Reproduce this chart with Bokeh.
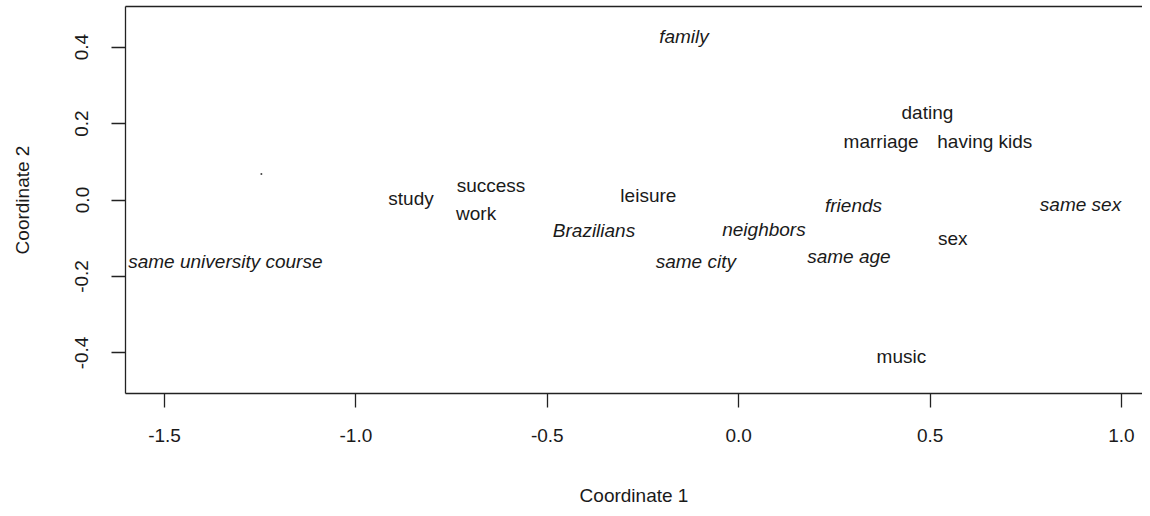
from bokeh.plotting import figure
from bokeh.models import Range1d, FixedTicker, ColumnDataSource, LinearAxis
from bokeh.core.properties import value
from bokeh.embed import file_html
from bokeh.resources import INLINE

# ---- data ----
labels = ["family", "dating", "marriage", "having kids", "study", "success", "work",
          "leisure", "Brazilians", "neighbors", "friends", "same sex", "sex",
          "same age", "same city", "same university course", "music"]
coord1 = [-0.143, 0.493, 0.372, 0.643, -0.856, -0.647, -0.686,
          -0.236, -0.378, 0.066, 0.300, 0.893, 0.559,
          0.288, -0.112, -1.341, 0.425]
coord2 = [0.428, 0.228, 0.153, 0.153, 0.005, 0.039, -0.036,
          0.011, -0.080, -0.078, -0.015, -0.013, -0.102,
          -0.149, -0.162, -0.160, -0.410]
styles = ["italic", "normal", "normal", "normal", "normal", "normal", "normal",
          "normal", "italic", "italic", "italic", "italic", "normal",
          "italic", "italic", "italic", "normal"]
point_x = [-1.247]
point_y = [0.068]

x_ticks = [-1.5, -1.0, -0.5, 0.0, 0.5, 1.0]
x_tick_labels = ["-1.5", "-1.0", "-0.5", "0.0", "0.5", "1.0"]
y_ticks = [-0.4, -0.2, 0.0, 0.2, 0.4]
y_tick_labels = ["-0.4", "-0.2", "0.0", "0.2", "0.4"]

FONT = "Liberation Sans"
FS = "19px"
LINE = "#222222"

p = figure(width=1142, height=508, output_backend="svg", toolbar_location=None,
           x_range=Range1d(-1.6019, 1.0549), y_range=Range1d(-0.5061, 0.5061),
           min_border_left=125, min_border_right=0, min_border_top=6, min_border_bottom=114)

p.grid.visible = False
p.outline_line_color = None
p.background_fill_color = "white"
p.border_fill_color = "white"

bottom_axis = p.below[0]
left_axis = p.left[0]

# top edge of the box (the right edge lies outside the picture in the reference)
top = LinearAxis(ticker=FixedTicker(ticks=[]), major_label_text_font_size="0px",
                 major_tick_out=0, major_tick_in=0, minor_tick_out=0, minor_tick_in=0,
                 major_label_standoff=0, axis_line_color=LINE, axis_line_width=1.3)
p.add_layout(top, "above")

src = ColumnDataSource(dict(x=coord1, y=coord2, t=labels, s=styles))
p.text(x="x", y="y", text="t", source=src, text_font=value(FONT), text_font_size=FS,
       text_font_style="s", text_align="center", text_baseline="middle", text_color="#1a1a1a")
p.scatter(point_x, point_y, size=2, color="#444444", line_color=None)

for ax, ticks, labs in ((bottom_axis, x_ticks, x_tick_labels), (left_axis, y_ticks, y_tick_labels)):
    ax.ticker = FixedTicker(ticks=ticks)
    ax.major_label_overrides = {t: l for t, l in zip(ticks, labs)}
    ax.minor_tick_line_color = None
    ax.major_tick_out = 14
    ax.major_tick_in = 0
    ax.major_tick_line_color = LINE
    ax.major_tick_line_width = 1.3
    ax.axis_line_color = LINE
    ax.axis_line_width = 1.3
    ax.major_label_text_font = FONT
    ax.major_label_text_font_size = FS
    ax.major_label_text_color = "#1a1a1a"
    ax.axis_label_text_font = FONT
    ax.axis_label_text_font_size = FS
    ax.axis_label_text_font_style = "normal"
    ax.axis_label_text_color = "#1a1a1a"
    ax.axis_label_standoff = 40

bottom_axis.major_label_standoff = 21
left_axis.major_label_standoff = 23
bottom_axis.axis_label = "Coordinate 1"
left_axis.axis_label = "Coordinate 2"
left_axis.major_label_orientation = "vertical"

open("out.html", "w").write(file_html(p, INLINE))
